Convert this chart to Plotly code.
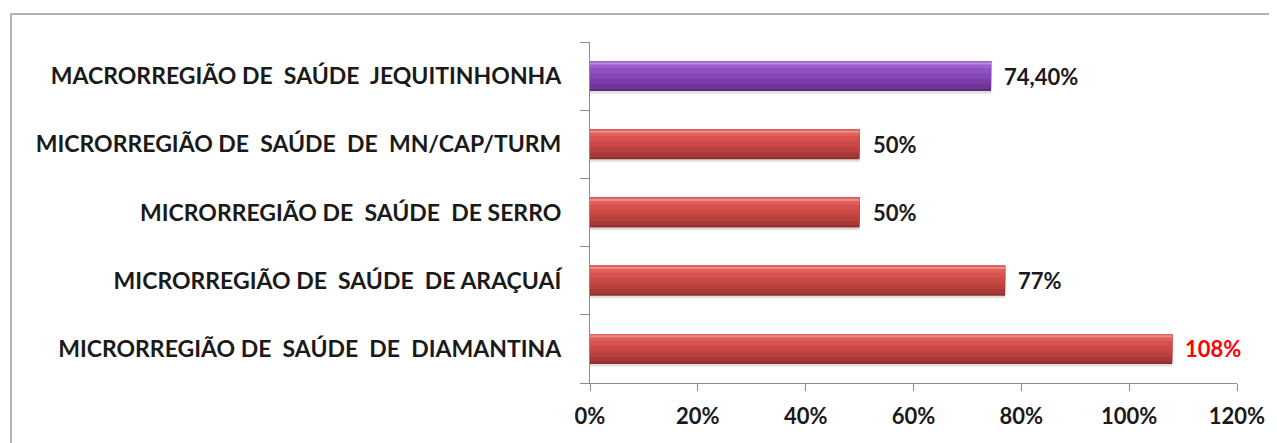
import plotly.graph_objects as go

categories = [
    "MICRORREGIÃO DE\u00a0 SAÚDE\u00a0 DE\u00a0 DIAMANTINA",
    "MICRORREGIÃO DE\u00a0 SAÚDE\u00a0 DE ARAÇUAÍ",
    "MICRORREGIÃO DE\u00a0 SAÚDE\u00a0 DE SERRO",
    "MICRORREGIÃO DE\u00a0 SAÚDE\u00a0 DE\u00a0 MN/CAP/TURM",
    "MACRORREGIÃO DE\u00a0 SAÚDE\u00a0 JEQUITINHONHA",
]
values = [108, 77, 50, 50, 74.4]
value_labels = ["108%", "77%", "50%", "50%", "74,40%"]
groups = ["micro", "micro", "micro", "micro", "macro"]
label_colors = ["#ff0000", "#1a1a1a", "#1a1a1a", "#1a1a1a", "#1a1a1a"]
x_ticks = [0, 20, 40, 60, 80, 100, 120]
x_tick_text = ["0%", "20%", "40%", "60%", "80%", "100%", "120%"]

# gradient bands (bottom -> top) to mimic the bevelled 3D bars
band_bottoms = [-0.22, -0.19, -0.12, -0.04, 0.04, 0.12]
palettes = {
    "micro": ["#8e2f2c", "#a63936", "#bb413e", "#cb4945", "#d6524e", "#e0605c"],
    "macro": ["#5e2a80", "#6e3496", "#7b3ca8", "#8646b6", "#9050c0", "#9c60cc"],
}
highlight = {"micro": "#ee8a86", "macro": "#b98ae0"}
TOP = 0.22

FONT = "Lato"
W, H = 1277, 443
# page body adds an 8px offset; plot area lands at screen x 590..1237, y 42..383
ml, mr, mt, mb = 582, 48, 34, 68

fig = go.Figure()
# soft shadow under each bar
fig.add_trace(go.Bar(
    y=categories, x=values, orientation="h",
    marker=dict(color="#dedede", line=dict(width=0)),
    width=0.04, offset=-0.255, hoverinfo="skip", showlegend=False,
))
for i, b in enumerate(band_bottoms):
    fig.add_trace(go.Bar(
        y=categories, x=values, orientation="h",
        marker=dict(color=[palettes[g][i] for g in groups], line=dict(width=0)),
        width=TOP - b, offset=b, hoverinfo="skip", showlegend=False,
    ))
fig.add_trace(go.Bar(
    y=categories, x=values, orientation="h",
    marker=dict(color=[highlight[g] for g in groups], line=dict(width=0)),
    width=0.03, offset=0.17, hoverinfo="skip", showlegend=False,
))

annotations = []
for cat, v, lab, col in zip(categories, values, value_labels, label_colors):
    annotations.append(dict(
        x=v, y=cat, xref="x", yref="y", text=lab, showarrow=False,
        xanchor="left", yanchor="middle", xshift=11,
        font=dict(family=FONT, size=22, color=col, weight="bold"),
    ))

pw = W - ml - mr
ph = H - mt - mb
def px(xp):
    return (xp - ml) / pw
def py(yp):
    return 1 - (yp - mt) / ph

fig.update_layout(
    width=W, height=H,
    margin=dict(l=ml, r=mr, t=mt, b=mb),
    paper_bgcolor="white", plot_bgcolor="white",
    barmode="overlay",
    font=dict(family=FONT, size=22, color="#1a1a1a"),
    annotations=annotations,
    xaxis=dict(
        range=[0, 120], tickvals=x_ticks, ticktext=x_tick_text,
        showgrid=False, zeroline=False,
        showline=True, linecolor="#8c8c8c", linewidth=1.2,
        ticks="outside", ticklen=7, tickcolor="#8c8c8c",
        tickfont=dict(family=FONT, size=22, color="#1a1a1a", weight="bold"),
        ticklabelstandoff=6,
    ),
    yaxis=dict(
        showgrid=False, zeroline=False,
        showline=True, linecolor="#8c8c8c", linewidth=1.2,
        ticks="outside", ticklen=9, tickcolor="#8c8c8c",
        tickson="boundaries",
        tickfont=dict(family=FONT, size=23, color="#1a1a1a", weight="bold"),
        ticklabelstandoff=23,
    ),
    shapes=[dict(
        type="rect", xref="paper", yref="paper",
        x0=px(3), x1=px(1290), y0=py(460), y1=py(6),
        line=dict(color="#9a9a9a", width=1.5), fillcolor="rgba(0,0,0,0)",
        layer="below",
    )],
)

fig.write_html("out.html")
